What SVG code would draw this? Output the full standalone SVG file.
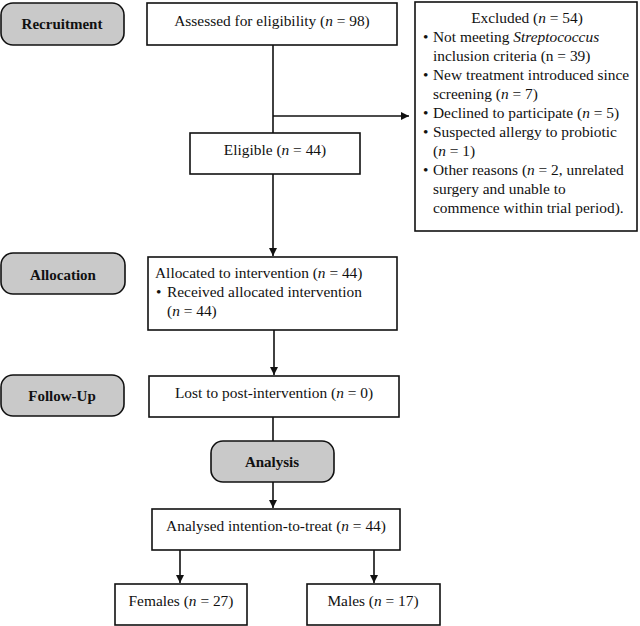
<svg xmlns="http://www.w3.org/2000/svg" width="640" height="626" viewBox="0 0 640 626">
<defs>
<marker id="ah" viewBox="0 0 10 10" refX="10" refY="5" markerWidth="8" markerHeight="8" markerUnits="userSpaceOnUse" orient="auto">
<path d="M0,0 L10,5 L0,10 z" fill="#111"/>
</marker>
</defs>
<style>
.box{fill:#fff;stroke:#111;stroke-width:1.6}
.stage{fill:#c9c9c9;stroke:#111;stroke-width:1.6}
.t{font-family:"Liberation Serif","Times New Roman",serif;font-size:15.4px;fill:#111}
.b{font-family:"Liberation Serif","Times New Roman",serif;font-size:15px;font-weight:bold;fill:#111}
.c{text-anchor:middle}
.ln{fill:none;stroke:#111;stroke-width:1.6}
</style>
<rect width="640" height="626" fill="#fff"/>
<g id="connectors">
<line class="ln" x1="273" y1="45" x2="273" y2="133"/>
<line class="ln" x1="273" y1="116" x2="409" y2="116" marker-end="url(#ah)"/>
<line class="ln" x1="273" y1="174" x2="273" y2="256" marker-end="url(#ah)"/>
<line class="ln" x1="274" y1="330" x2="274" y2="375" marker-end="url(#ah)"/>
<line class="ln" x1="273" y1="417" x2="273" y2="441"/>
<line class="ln" x1="273" y1="482" x2="273" y2="508" marker-end="url(#ah)"/>
<line class="ln" x1="180" y1="550" x2="180" y2="583" marker-end="url(#ah)"/>
<line class="ln" x1="374" y1="550" x2="374" y2="583" marker-end="url(#ah)"/>
</g>
<g id="recruitment">
<rect class="stage" x="1" y="3" width="123" height="42" rx="12"/>
<text class="b c" x="62" y="29">Recruitment</text>
</g>
<g id="assessed">
<rect class="box" x="147" y="3" width="250" height="42"/>
<text class="t c" x="272" y="26">Assessed for eligibility (<tspan font-style="italic">n</tspan> = 98)</text>
</g>
<g id="excluded">
<rect class="box" x="415" y="2" width="222" height="229"/>
<text class="t c" x="527" y="23">Excluded (<tspan font-style="italic">n</tspan> = 54)</text>
<text class="t" x="423" y="42">•</text>
<text class="t" x="433" y="42">Not meeting <tspan font-style="italic">Streptococcus</tspan></text>
<text class="t" x="433" y="61">inclusion criteria (n = 39)</text>
<text class="t" x="423" y="80">•</text>
<text class="t" x="433" y="80">New treatment introduced since</text>
<text class="t" x="433" y="99">screening (<tspan font-style="italic">n</tspan> = 7)</text>
<text class="t" x="423" y="118">•</text>
<text class="t" x="433" y="118">Declined to participate (<tspan font-style="italic">n</tspan> = 5)</text>
<text class="t" x="423" y="137">•</text>
<text class="t" x="433" y="137">Suspected allergy to probiotic</text>
<text class="t" x="433" y="156">(<tspan font-style="italic">n</tspan> = 1)</text>
<text class="t" x="423" y="175">•</text>
<text class="t" x="433" y="175">Other reasons (<tspan font-style="italic">n</tspan> = 2, unrelated</text>
<text class="t" x="433" y="194">surgery and unable to</text>
<text class="t" x="433" y="213">commence within trial period).</text>
</g>
<g id="eligible">
<rect class="box" x="190" y="133" width="170" height="41"/>
<text class="t c" x="275" y="155">Eligible (<tspan font-style="italic">n</tspan> = 44)</text>
</g>
<g id="allocation">
<rect class="stage" x="1" y="253" width="124" height="41" rx="12"/>
<text class="b c" x="63" y="280">Allocation</text>
</g>
<g id="allocated">
<rect class="box" x="148" y="257" width="249" height="73"/>
<text class="t" x="155" y="278">Allocated to intervention (<tspan font-style="italic">n</tspan> = 44)</text>
<text class="t" x="156" y="297">•</text>
<text class="t" x="167" y="297">Received allocated intervention</text>
<text class="t" x="167" y="316">(<tspan font-style="italic">n</tspan> = 44)</text>
</g>
<g id="followup">
<rect class="stage" x="1" y="375" width="123" height="41" rx="12"/>
<text class="b c" x="62" y="401">Follow-Up</text>
</g>
<g id="lost">
<rect class="box" x="149" y="376" width="250" height="41"/>
<text class="t c" x="274" y="398">Lost to post-intervention (<tspan font-style="italic">n</tspan> = 0)</text>
</g>
<g id="analysis">
<rect class="stage" x="211" y="441" width="123" height="41" rx="12"/>
<text class="b c" x="272" y="467">Analysis</text>
</g>
<g id="analysed">
<rect class="box" x="152" y="509" width="248" height="41"/>
<text class="t c" x="276" y="531">Analysed intention-to-treat (<tspan font-style="italic">n</tspan> = 44)</text>
</g>
<g id="females">
<rect class="box" x="115" y="584" width="132" height="41"/>
<text class="t c" x="181" y="606">Females (<tspan font-style="italic">n</tspan> = 27)</text>
</g>
<g id="males">
<rect class="box" x="307" y="584" width="133" height="41"/>
<text class="t c" x="373" y="606">Males (<tspan font-style="italic">n</tspan> = 17)</text>
</g>
</svg>
